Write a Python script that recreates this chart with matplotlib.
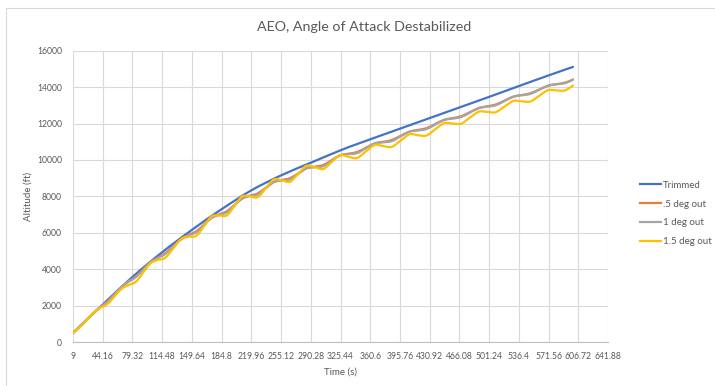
import matplotlib
matplotlib.use("Agg")
import matplotlib.pyplot as plt
from matplotlib.path import Path
from matplotlib.patches import PathPatch, Rectangle
from matplotlib.lines import Line2D
import numpy as np

plt.rcParams['font.family'] = ['Lato', 'DejaVu Sans']

# Trimmed climb
time_trim = [9, 44, 80, 115, 150, 185, 220, 255, 291, 325, 348.5, 396, 431,
             466, 501, 536, 572, 600.5]
alt_trim = [500, 2050, 3600, 4950, 6170, 7300, 8330, 9150, 9860, 10520, 10930,
            11720, 12300, 12880, 13460, 14050, 14650, 15110]

# Destabilized runs (common time base)
time_out = [9, 15.5, 24, 32.5,
            41, 49.5, 58, 66.5,
            75, 83.5, 92, 100.5,
            109, 118, 127.5, 137,
            146, 155, 164, 173,
            182, 191, 200, 209,
            218, 227.5, 237, 246.5,
            256, 265.5, 275.5, 285,
            295, 305, 315, 325,
            335, 345, 355.5, 366,
            376, 386, 396.5, 407,
            417, 427, 437.5, 448,
            458, 468, 478.5, 489,
            499, 509, 519.5, 530,
            540, 550, 560.5, 571,
            581, 591, 600.5]

alt_05 = [500, 775, 1157, 1555,
          1902, 2220, 2619, 3017,
          3335, 3604, 3982, 4361,
          4629, 4875, 5260, 5646,
          5891, 6087, 6452, 6818,
          7013, 7180, 7527, 7874,
          8041, 8161, 8471, 8780,
          8900, 8992, 9264, 9536,
          9628, 9722, 9987, 10251,
          10345, 10433, 10671, 10909,
          10997, 11090, 11323, 11555,
          11648, 11745, 11973, 12200,
          12297, 12400, 12622, 12845,
          12947, 13042, 13257, 13472,
          13567, 13662, 13866, 14071,
          14165, 14244, 14420]

alt_10 = [500, 770, 1155, 1561,
          1897, 2198, 2609, 3019,
          3320, 3567, 3965, 4362,
          4609, 4823, 5238, 5652,
          5866, 6025, 6425, 6824,
          6983, 7115, 7497, 7879,
          8011, 8096, 8441, 8785,
          8870, 8927, 9234, 9541,
          9598, 9657, 9957, 10256,
          10315, 10373, 10641, 10909,
          10967, 11030, 11293, 11555,
          11618, 11692, 11945, 12199,
          12272, 12351, 12600, 12848,
          12927, 12998, 13240, 13481,
          13552, 13623, 13854, 14084,
          14155, 14214, 14410]

alt_15 = [500, 748, 1142, 1576,
          1870, 2075, 2500, 2925,
          3130, 3312, 3815, 4318,
          4500, 4620, 5140, 5660,
          5780, 5832, 6365, 6897,
          6950, 6952, 7475, 7997,
          8000, 7950, 8440, 8930,
          8880, 8800, 9240, 9680,
          9600, 9502, 9885, 10268,
          10170, 10108, 10465, 10822,
          10760, 10715, 11060, 11405,
          11360, 11340, 11680, 12020,
          12000, 11990, 12320, 12650,
          12640, 12620, 12930, 13240,
          13220, 13210, 13520, 13830,
          13820, 13820, 14090]

series_names = ["Trimmed", ".5 deg out", "1 deg out", "1.5 deg out"]
series_colors = ["#4472C4", "#ED7D31", "#A5A5A5", "#FFC000"]

x_tick_values = [9, 44.16, 79.32, 114.48, 149.64, 184.8, 219.96, 255.12, 290.28,
                 325.44, 360.6, 395.76, 430.92, 466.08, 501.24, 536.4, 571.56,
                 606.72, 641.88]
x_tick_labels = ["9", "44.16", "79.32", "114.48", "149.64", "184.8", "219.96",
                 "255.12", "290.28", "325.44", "360.6", "395.76", "430.92",
                 "466.08", "501.24", "536.4", "571.56", "606.72", "641.88"]
y_ticks = [0, 2000, 4000, 6000, 8000, 10000, 12000, 14000, 16000]


def smooth_path(x, y):
    # smoothed line: Catmull-Rom pieces written as cubic Bezier segments
    x = np.asarray(x, float)
    y = np.asarray(y, float)
    px = np.concatenate([[x[0]], x, [x[-1]]])
    py = np.concatenate([[y[0]], y, [y[-1]]])
    verts = [(x[0], y[0])]
    codes = [Path.MOVETO]
    for i in range(1, len(px) - 2):
        c1 = (px[i] + (px[i + 1] - px[i - 1]) / 6, py[i] + (py[i + 1] - py[i - 1]) / 6)
        c2 = (px[i + 1] - (px[i + 2] - px[i]) / 6, py[i + 1] - (py[i + 2] - py[i]) / 6)
        verts += [c1, c2, (px[i + 1], py[i + 1])]
        codes += [Path.CURVE4] * 3
    return Path(verts, codes)


fig = plt.figure(figsize=(7.15, 3.86), dpi=100)
fig.patch.set_facecolor("white")
# chart area border
fig.patches.append(Rectangle((6 / 715, -0.05), 1.1, 1 - 8 / 386 + 0.05,
                             transform=fig.transFigure, fill=False,
                             edgecolor="#d9d9d9", lw=0.8))

ax = fig.add_axes([73 / 715, 1 - 342 / 386, 535 / 715, (342 - 50.7) / 386])

data = [(time_trim, alt_trim), (time_out, alt_05), (time_out, alt_10), (time_out, alt_15)]
handles = []
for (t, a), name, col in zip(data, series_names, series_colors):
    ax.add_patch(PathPatch(smooth_path(t, a), fill=False, edgecolor=col, lw=1.6,
                           capstyle="round", joinstyle="round", zorder=3))
    handles.append(Line2D([], [], color=col, lw=1.6, label=name))

ax.set_xlim(9, 641.88)
ax.set_ylim(0, 16000)
ax.set_xticks(x_tick_values)
ax.set_xticklabels(x_tick_labels)
ax.set_yticks(y_ticks)
ax.grid(True, color="#d9d9d9", lw=0.8)
ax.set_axisbelow(True)
for s in ["top", "right", "left"]:
    ax.spines[s].set_visible(False)
ax.spines["bottom"].set_color("#bfbfbf")
ax.spines["bottom"].set_linewidth(0.8)
ax.tick_params(length=0, labelsize=6.2, labelcolor="#595959")
ax.tick_params(axis="x", pad=7)
ax.tick_params(axis="y", pad=8)

ax.set_xlabel("Time (s)", fontsize=7, color="#595959", labelpad=5)
ax.set_ylabel("Altitude (ft)", fontsize=7, color="#595959", labelpad=3)

fig.text(364 / 715, 1 - 27 / 386, "AEO, Angle of Attack Destabilized",
         ha="center", va="center", fontsize=10.3, color="#595959")

fig.legend(handles=handles, loc="upper left", bbox_to_anchor=(636 / 715, 1 - 177 / 386),
           frameon=False, fontsize=7, labelcolor="#595959", handlelength=2.2,
           handletextpad=0.15, labelspacing=1.0, borderaxespad=0)

fig.savefig("out.png", dpi=100)
